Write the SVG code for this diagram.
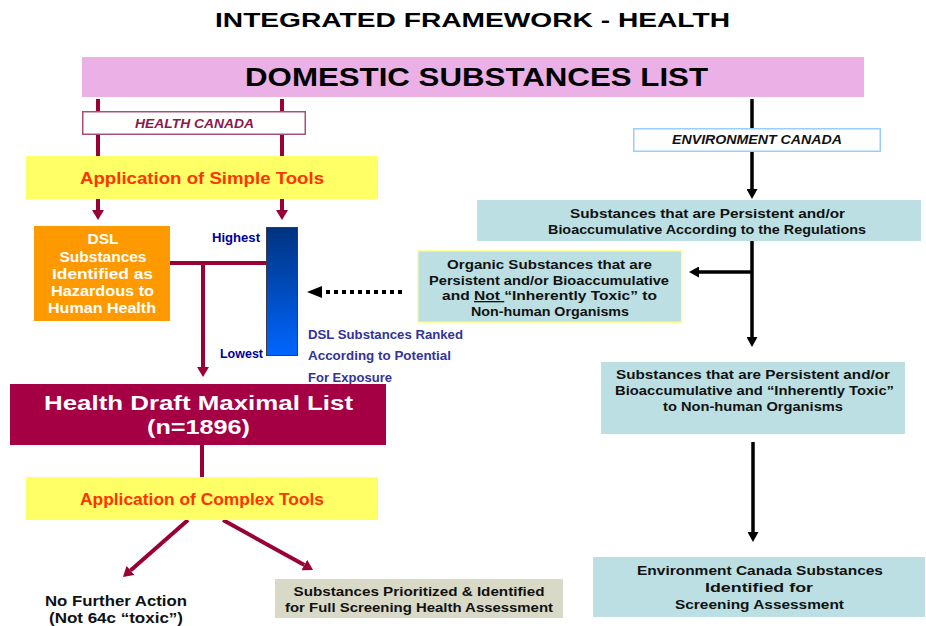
<svg xmlns="http://www.w3.org/2000/svg" width="926" height="626" viewBox="0 0 926 626">
  <style>
    text { font-family: "Liberation Sans", Arial, sans-serif; font-weight: bold; text-anchor: middle; }
    .title { font-size: 20px; fill: #000; }
    .dsl { font-size: 26px; fill: #000; }
    .agency { font-size: 12px; font-style: italic; }
    .tool { font-size: 17px; fill: #FF3300; }
    .box { font-size: 13px; fill: #111; }
    .haz { font-size: 14px; fill: #fff; }
    .rank { font-size: 12px; fill: #000099; }
    .ranknote { font-size: 12px; fill: #333399; text-anchor: start; }
    .draft { font-size: 20px; fill: #fff; }
    .plain { font-size: 14px; fill: #111; }
    .teal { fill: #BBDFE2; }
    .yellow { fill: #FFFF66; }
    .mline { stroke: #990033; stroke-width: 4; fill: none; }
    .kline { stroke: #000; stroke-width: 3.5; fill: none; }
  </style>
  <defs>
    <marker id="arrowM" markerUnits="userSpaceOnUse" markerWidth="10" markerHeight="12" refX="0" refY="6" orient="auto">
      <path d="M0,0 L10,6 L0,12 z" fill="#990033"/>
    </marker>
    <marker id="arrowK" markerUnits="userSpaceOnUse" markerWidth="10" markerHeight="11" refX="0" refY="5.5" orient="auto">
      <path d="M0,0 L10,5.5 L0,11 z" fill="#000"/>
    </marker>
    <linearGradient id="rankGrad" x1="0" y1="0" x2="0" y2="1">
      <stop offset="0" stop-color="#00337F"/>
      <stop offset="1" stop-color="#0066FF"/>
    </linearGradient>
  </defs>

  <rect width="926" height="626" fill="#fff"/>

  <!-- connectors -->
  <g id="connectors">
    <!-- Health Canada branch -->
    <line class="mline" x1="98" y1="99" x2="98" y2="157"/>
    <line class="mline" x1="282" y1="99" x2="282" y2="157"/>
    <line class="mline" x1="98" y1="198" x2="98" y2="210" marker-end="url(#arrowM)"/>
    <line class="mline" x1="282" y1="198" x2="282" y2="210" marker-end="url(#arrowM)"/>
    <polyline class="mline" points="170,263 266,263"/>
    <line class="mline" x1="203" y1="263" x2="203" y2="367" marker-end="url(#arrowM)"/>
    <line class="mline" x1="202" y1="445" x2="202" y2="478"/>
    <line class="mline" x1="188" y1="520" x2="130.5" y2="570.4" marker-end="url(#arrowM)"/>
    <line class="mline" x1="223" y1="520" x2="304.3" y2="565.1" marker-end="url(#arrowM)"/>
    <!-- dotted exposure link -->
    <line x1="402" y1="292" x2="322" y2="292" stroke="#000" stroke-width="4" stroke-dasharray="4 4"/>
    <polygon points="307,292 322,286 322,298" fill="#000"/>
    <!-- Environment Canada branch -->
    <line class="kline" x1="752" y1="99" x2="752" y2="129"/>
    <line class="kline" x1="752" y1="152" x2="752" y2="189" marker-end="url(#arrowK)"/>
    <line class="kline" x1="752" y1="241" x2="752" y2="337" marker-end="url(#arrowK)"/>
    <line class="kline" x1="752" y1="272" x2="699" y2="272" marker-end="url(#arrowK)"/>
    <line class="kline" x1="753" y1="442" x2="753" y2="532" marker-end="url(#arrowK)"/>
  </g>

  <g id="title">
    <text class="title" x="472.5" y="27" textLength="515" lengthAdjust="spacingAndGlyphs">INTEGRATED FRAMEWORK - HEALTH</text>
  </g>

  <g id="dsl">
    <rect x="82" y="57" width="782" height="40" fill="#EBB0E6"/>
    <text class="dsl" x="476.5" y="86" textLength="463" lengthAdjust="spacingAndGlyphs">DOMESTIC SUBSTANCES LIST</text>
  </g>

  <g id="health-canada">
    <rect x="82.75" y="111.75" width="222.5" height="22.5" fill="#fff" stroke="#A65078" stroke-width="1.5"/>
    <text class="agency" x="194.5" y="128" fill="#8B1A4A" textLength="119" lengthAdjust="spacingAndGlyphs">HEALTH CANADA</text>
  </g>

  <g id="simple-tools">
    <rect class="yellow" x="26" y="156" width="352" height="43"/>
    <text class="tool" x="202" y="184" textLength="244" lengthAdjust="spacingAndGlyphs">Application of Simple Tools</text>
  </g>

  <g id="hazardous">
    <rect x="34" y="226" width="136" height="95" fill="#FF9900"/>
    <text class="haz" x="103" y="244" textLength="31" lengthAdjust="spacingAndGlyphs">DSL</text>
    <text class="haz" x="103" y="261.5" textLength="87" lengthAdjust="spacingAndGlyphs">Substances</text>
    <text class="haz" x="102.5" y="279" textLength="101" lengthAdjust="spacingAndGlyphs">Identified as</text>
    <text class="haz" x="102.5" y="296" textLength="103" lengthAdjust="spacingAndGlyphs">Hazardous to</text>
    <text class="haz" x="102" y="313" textLength="108" lengthAdjust="spacingAndGlyphs">Human Health</text>
  </g>

  <g id="ranking">
    <rect x="266.5" y="227.5" width="31" height="128" fill="url(#rankGrad)" stroke="#3A3A4A" stroke-width="1"/>
    <text class="rank" x="236" y="242" textLength="48" lengthAdjust="spacingAndGlyphs">Highest</text>
    <text class="rank" x="241.5" y="358" textLength="43" lengthAdjust="spacingAndGlyphs">Lowest</text>
    <text class="ranknote" x="308" y="339" textLength="155" lengthAdjust="spacingAndGlyphs">DSL Substances Ranked</text>
    <text class="ranknote" x="308" y="360" textLength="143" lengthAdjust="spacingAndGlyphs">According to Potential</text>
    <text class="ranknote" x="308" y="382" textLength="84" lengthAdjust="spacingAndGlyphs">For Exposure</text>
  </g>

  <g id="draft-list">
    <rect x="10" y="384" width="376" height="61" fill="#A50044"/>
    <text class="draft" x="198.5" y="410" textLength="309" lengthAdjust="spacingAndGlyphs">Health Draft Maximal List</text>
    <text class="draft" x="198.5" y="434" textLength="103" lengthAdjust="spacingAndGlyphs">(n=1896)</text>
  </g>

  <g id="complex-tools">
    <rect class="yellow" x="26" y="477" width="352" height="43"/>
    <text class="tool" x="202" y="505" textLength="244" lengthAdjust="spacingAndGlyphs">Application of Complex Tools</text>
  </g>

  <g id="no-action">
    <text class="plain" x="116" y="606" textLength="142" lengthAdjust="spacingAndGlyphs">No Further Action</text>
    <text class="plain" x="116" y="623" textLength="134" lengthAdjust="spacingAndGlyphs">(Not 64c “toxic”)</text>
  </g>

  <g id="prioritized">
    <rect x="275" y="579" width="288" height="39" fill="#D8D9C6"/>
    <text class="box" x="419" y="596" textLength="251" lengthAdjust="spacingAndGlyphs">Substances Prioritized &amp; Identified</text>
    <text class="box" x="419" y="612" textLength="268" lengthAdjust="spacingAndGlyphs">for Full Screening Health Assessment</text>
  </g>

  <g id="environment-canada">
    <rect x="633.75" y="128.75" width="246.5" height="22.5" fill="#fff" stroke="#99CCFF" stroke-width="1.5"/>
    <text class="agency" x="757" y="144" fill="#111" textLength="170" lengthAdjust="spacingAndGlyphs">ENVIRONMENT CANADA</text>
  </g>

  <g id="persistent">
    <rect class="teal" x="477" y="200" width="444" height="41"/>
    <text class="box" x="707.5" y="217.5" textLength="275" lengthAdjust="spacingAndGlyphs">Substances that are Persistent and/or</text>
    <text class="box" x="707" y="233.5" textLength="318" lengthAdjust="spacingAndGlyphs">Bioaccumulative According to the Regulations</text>
  </g>

  <g id="not-toxic">
    <rect class="teal" x="417.75" y="250.75" width="264" height="71.5" stroke="#FFFF99" stroke-width="1.5"/>
    <text class="box" x="549.5" y="268.5" textLength="205" lengthAdjust="spacingAndGlyphs">Organic Substances that are</text>
    <text class="box" x="549" y="284.5" textLength="240" lengthAdjust="spacingAndGlyphs">Persistent and/or Bioaccumulative</text>
    <text class="box" x="549.5" y="300" textLength="215" lengthAdjust="spacingAndGlyphs">and <tspan text-decoration="underline">Not </tspan>“Inherently Toxic” to</text>
    <text class="box" x="550" y="315.5" textLength="158" lengthAdjust="spacingAndGlyphs">Non-human Organisms</text>
  </g>

  <g id="inherently-toxic">
    <rect class="teal" x="601" y="362" width="304" height="72"/>
    <text class="box" x="753" y="379" textLength="274" lengthAdjust="spacingAndGlyphs">Substances that are Persistent and/or</text>
    <text class="box" x="754.5" y="395" textLength="279" lengthAdjust="spacingAndGlyphs">Bioaccumulative and “Inherently Toxic”</text>
    <text class="box" x="753" y="411" textLength="180" lengthAdjust="spacingAndGlyphs">to Non-human Organisms</text>
  </g>

  <g id="screening">
    <rect class="teal" x="593" y="557" width="332" height="60"/>
    <text class="box" x="760" y="575" textLength="246" lengthAdjust="spacingAndGlyphs">Environment Canada Substances</text>
    <text class="box" x="759" y="592" textLength="108" lengthAdjust="spacingAndGlyphs">Identified for</text>
    <text class="box" x="759.5" y="609" textLength="169" lengthAdjust="spacingAndGlyphs">Screening Assessment</text>
  </g>
</svg>
